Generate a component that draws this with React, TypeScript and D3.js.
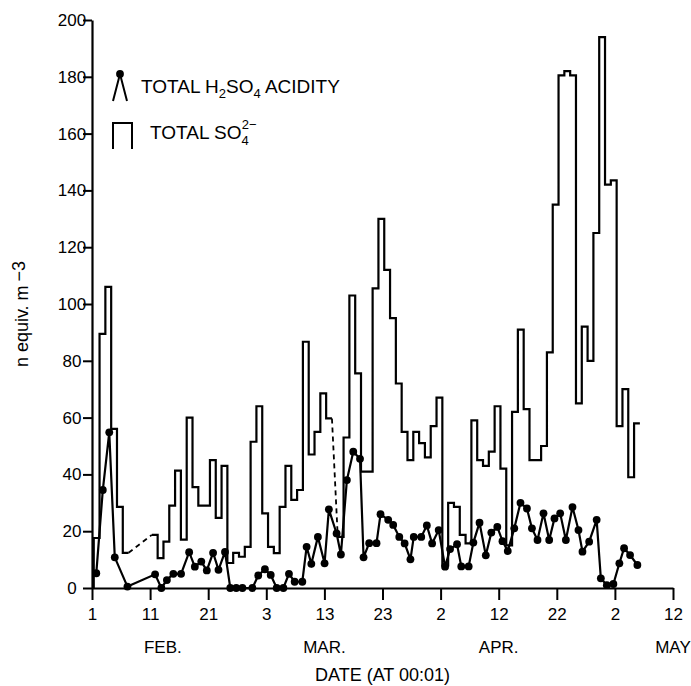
import React, { useEffect, useRef } from 'react';
import * as d3 from 'd3';

const W = 691;
const H = 686;
const margin = { t: 20, r: 18, b: 98, l: 92 };
const font = '"Liberation Sans", Arial, Helvetica, sans-serif';

// day 0 = 1 Feb, ticks every 10 days
const xTickDays = [0, 10, 20, 30, 40, 50, 60, 70, 80, 90, 100];
const xTickLabels = ['1', '11', '21', '3', '13', '23', '2', '12', '22', '2', '12'];
const monthLabels = ['FEB.', 'MAR.', 'APR.', 'MAY'];
const monthDays = [12.2, 40, 70, 100];
const yTicks = [0, 20, 40, 60, 80, 100, 120, 140, 160, 180, 200];

// total SO4 2-, one value per daily sample (null = missing, bridged dashed)
const so4FirstDay = 0.3;
const so4Values: (number | null)[] = [
  17.6, 89.5, 106, 56, 28.6, 12.4, null, null, null, null,
  18.7, 10.5, 16.3, 29, 41.3, 17, 60, 35.5, 29, 29,
  45, 24.7, 43, 8.8, 12.4, 11, 14.5, 51.5, 64, 26.3,
  14.5, 12.3, 28.6, 43, 31, 34.5, 86.7, 47, 55, 68.5,
  59.7, null, 18, 53, 103, 75.6, 41, 41, 105.5, 130,
  112, 95, 72, 55, 45, 55, 51, 46, 57, 67,
  8, 30, 28.6, 18.7, 15.7, 59, 45, 43, 48, 64,
  42, 15, 62, 91, 63, 45, 45, 50, 83, 135,
  180.5, 182, 180.5, 65, 92, 80, 125, 194, 142, 143.5,
  57, 70, 39, 58,
];

// total H2SO4 acidity samples
const acidDays = [
  0.74, 1.86, 2.97, 3.92, 6.1, 10.86, 11.94, 12.89, 14.0, 15.33,
  16.72, 17.7, 18.81, 19.76, 20.84, 21.77, 22.89, 23.8, 24.83, 25.89,
  27.61, 28.61, 29.76, 30.76, 31.79, 32.94, 33.9, 34.88, 36.2, 36.94,
  37.75, 38.88, 40.03, 40.77, 42.1, 42.84, 43.87, 44.97, 46.13, 46.74,
  47.71, 48.97, 49.66, 50.98, 51.84, 52.89, 53.81, 54.81, 55.38, 56.67,
  57.63, 58.54, 59.67, 60.77, 61.63, 62.83, 63.56, 64.83, 65.64, 66.7,
  67.78, 68.73, 69.76, 70.65, 71.56, 72.68, 73.75, 74.86, 75.72, 76.68,
  77.71, 78.69, 79.6, 80.58, 81.56, 82.7, 83.73, 84.42, 85.57, 86.86,
  87.58, 88.61, 89.74, 90.77, 91.58, 92.61, 93.87,
];
const acidValues = [
  5.2, 34.5, 54.8, 10.8, 0.5, 4.8, 0, 2.8, 5, 5,
  12.6, 7.5, 9.3, 6.2, 12.4, 6.4, 12.7, 0, 0, 0,
  0, 4.4, 6.6, 4.6, 0, 0, 5, 2.2, 2.2, 14.5,
  8.5, 18, 8.7, 27.7, 19.2, 11.8, 38, 48, 45.5, 10.8,
  15.8, 15.8, 26, 24, 22.2, 18, 15.7, 10.1, 18, 18,
  22, 15.7, 20.4, 7.5, 13.7, 15.4, 7.6, 7.6, 16, 23,
  11.5, 19.5, 21.5, 16.5, 13, 21, 30, 28, 21, 16.9,
  26.3, 16.9, 24.5, 26.3, 16.9, 28.5, 20.4, 12.8, 16.3, 24,
  3.4, 1, 1.4, 8.7, 14, 11.6, 8.1,
];

type Pt = { t: number; v: number | null };

export default function App() {
  const xAxisRef = useRef<SVGGElement>(null);
  const yAxisRef = useRef<SVGGElement>(null);

  const x = d3.scaleLinear().domain([0, 100]).range([margin.l, W - margin.r]);
  const y = d3.scaleLinear().domain([0, 200]).range([H - margin.b, margin.t]);

  //step outline: start from baseline, close each run with an end point
  const stepPts: Pt[] = [{ t: so4FirstDay, v: 0 }];
  so4Values.forEach((v, i) => {
    const t = so4FirstDay + i;
    stepPts.push({ t, v });
    if (v != null && so4Values[i + 1] == null) stepPts.push({ t: t + 1, v });
  });

  //dashed bridges over missing samples
  const gaps: Pt[][] = [];
  so4Values.forEach((v, i) => {
    if (v == null && i > 0 && so4Values[i - 1] != null) {
      let j = i;
      while (so4Values[j] == null) j++;
      gaps.push([
        { t: so4FirstDay + i, v: so4Values[i - 1] },
        { t: so4FirstDay + j, v: so4Values[j] },
      ]);
    }
  });

  const stepLine = d3.line<Pt>()
    .defined(d => d.v != null)
    .x(d => x(d.t))
    .y(d => y(d.v as number))
    .curve(d3.curveStepAfter);

  const plainLine = d3.line<Pt>()
    .x(d => x(d.t))
    .y(d => y(d.v as number));

  const acidPts: Pt[] = acidDays.map((t, i) => ({ t, v: acidValues[i] }));

  useEffect(() => {
    const axX = d3.axisBottom(x)
      .tickValues(xTickDays)
      .tickFormat((d, i) => xTickLabels[i])
      .tickSize(12)
      .tickSizeOuter(0)
      .tickPadding(8);
    const gx = d3.select(xAxisRef.current!).call(axX)
      .attr('font-family', null).attr('font-size', null);
    gx.select('.domain').attr('stroke-width', 2.2);
    gx.selectAll('line').attr('stroke-width', 2);
    gx.selectAll('text').attr('fill', '#000');

    const axY = d3.axisLeft(y)
      .tickValues(yTicks)
      .tickSize(9)
      .tickSizeOuter(0);
    const gy = d3.select(yAxisRef.current!).call(axY)
      .attr('font-family', null).attr('font-size', null);
    gy.select('.domain').attr('stroke-width', 2.2);
    gy.selectAll('line').attr('stroke-width', 2);
    gy.selectAll('text')
      .attr('fill', '#000')
      .attr('text-anchor', 'middle')
      .attr('x', -20);
  }, []);

  return (
    <svg
      width={W}
      height={H}
      style={{ position: 'absolute', left: 0, top: 0, background: '#fff', fontFamily: font, fontSize: 17 }}
    >
      <g ref={xAxisRef} transform={`translate(0,${y(0)})`} />
      <g ref={yAxisRef} transform={`translate(${x(0)},0)`} />

      {monthLabels.map((m, i) => (
        <text key={m} x={x(monthDays[i])} y={H - margin.b + 65} textAnchor="middle">{m}</text>
      ))}
      <text x={(x(0) + x(100)) / 2} y={H - 5} textAnchor="middle" fontSize={18}>DATE (AT 00:01)</text>
      <text transform={`translate(28,${(y(0) + y(200)) / 2 + 10}) rotate(-90)`} textAnchor="middle" fontSize={18}>
        n equiv. m<tspan dx={4} dy={-3}>−3</tspan>
      </text>

      <path d={stepLine(stepPts) || ''} fill="none" stroke="#000" strokeWidth={2.2} strokeLinejoin="miter" />
      {gaps.map((g, i) => (
        <path key={i} d={plainLine(g) || ''} fill="none" stroke="#000" strokeWidth={1.8} strokeDasharray="5 4" />
      ))}

      <path d={plainLine(acidPts) || ''} fill="none" stroke="#000" strokeWidth={2.2} />
      {acidPts.map((d, i) => (
        <circle key={i} cx={x(d.t)} cy={y(d.v as number)} r={3.9} fill="#000" />
      ))}

      <g className="legend" transform="translate(113,72)">
        <path d="M7,2 L0,29 M7,2 L14,29" fill="none" stroke="#000" strokeWidth={2} />
        <circle cx={7} cy={2} r={3.9} fill="#000" />
        <text x={28} y={21} fontSize={19}>
          TOTAL H<tspan fontSize={13} dy={5}>2</tspan>
          <tspan dy={-5}>SO</tspan>
          <tspan fontSize={13} dy={5}>4</tspan>
          <tspan dy={-5}> ACIDITY</tspan>
        </text>
        <path d="M0,77 V51 H19 V77" fill="none" stroke="#000" strokeWidth={2} />
        <text x={37} y={67} fontSize={19}>
          TOTAL SO<tspan fontSize={13} dy={6}>4</tspan>
          <tspan fontSize={13} dx={-7} dy={-16}>2−</tspan>
        </text>
      </g>
    </svg>
  );
}
